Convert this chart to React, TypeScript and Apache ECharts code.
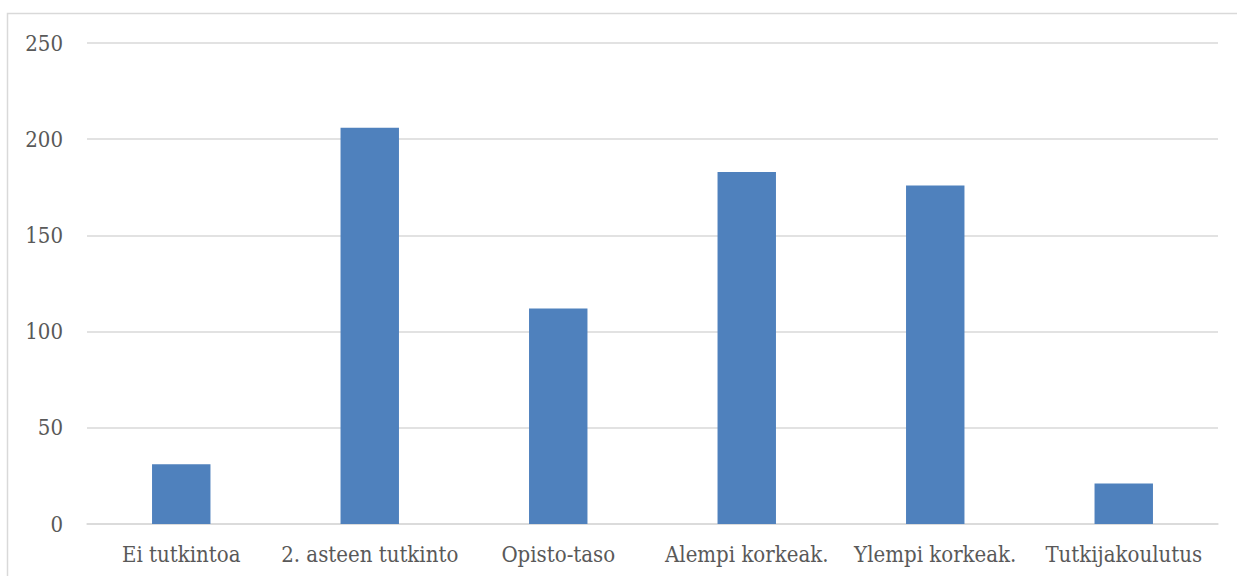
import React, { useEffect, useRef } from "react";
import * as echarts from "echarts";

// Education level counts
const categories = [
  "Ei tutkintoa",
  "2. asteen tutkinto",
  "Opisto-taso",
  "Alempi korkeak.",
  "Ylempi korkeak.",
  "Tutkijakoulutus",
];
const counts = [31, 206, 112, 183, 176, 21];

const FONT = "'DejaVu Serif Condensed', 'DejaVu Serif', serif";

export default function App() {
  const ref = useRef<HTMLDivElement>(null);

  useEffect(() => {
    if (!ref.current) return;
    const chart = echarts.init(ref.current, undefined, { renderer: "svg" });
    chart.setOption({
      animation: false,
      backgroundColor: "#ffffff",
      graphic: [
        {
          type: "rect",
          shape: { x: 7.5, y: 13.5, width: 1300, height: 700 },
          style: { fill: "none", stroke: "#d9d9d9", lineWidth: 1.5 },
          silent: true,
        },
      ],
      grid: { left: 87, right: 19, top: 43, bottom: 52, containLabel: false },
      xAxis: {
        type: "category",
        data: categories,
        axisTick: { show: false },
        axisLine: { show: true, lineStyle: { color: "#d9d9d9", width: 1.5 } },
        axisLabel: {
          color: "#595959",
          fontFamily: FONT,
          fontSize: 22,
          margin: 19,
          interval: 0,
        },
      },
      yAxis: {
        type: "value",
        min: 0,
        max: 250,
        interval: 50,
        axisLine: { show: false },
        axisTick: { show: false },
        splitLine: { lineStyle: { color: "#d9d9d9", width: 1.5 } },
        axisLabel: {
          color: "#595959",
          fontFamily: FONT,
          fontSize: 22,
          margin: 24,
        },
      },
      series: [
        {
          type: "bar",
          data: counts,
          barWidth: "31%",
          itemStyle: { color: "#4f81bd" },
        },
      ],
    });
    return () => chart.dispose();
  }, []);

  return (
    <div
      ref={ref}
      style={{ position: "absolute", left: 0, top: 0, width: 1237, height: 576 }}
    />
  );
}
